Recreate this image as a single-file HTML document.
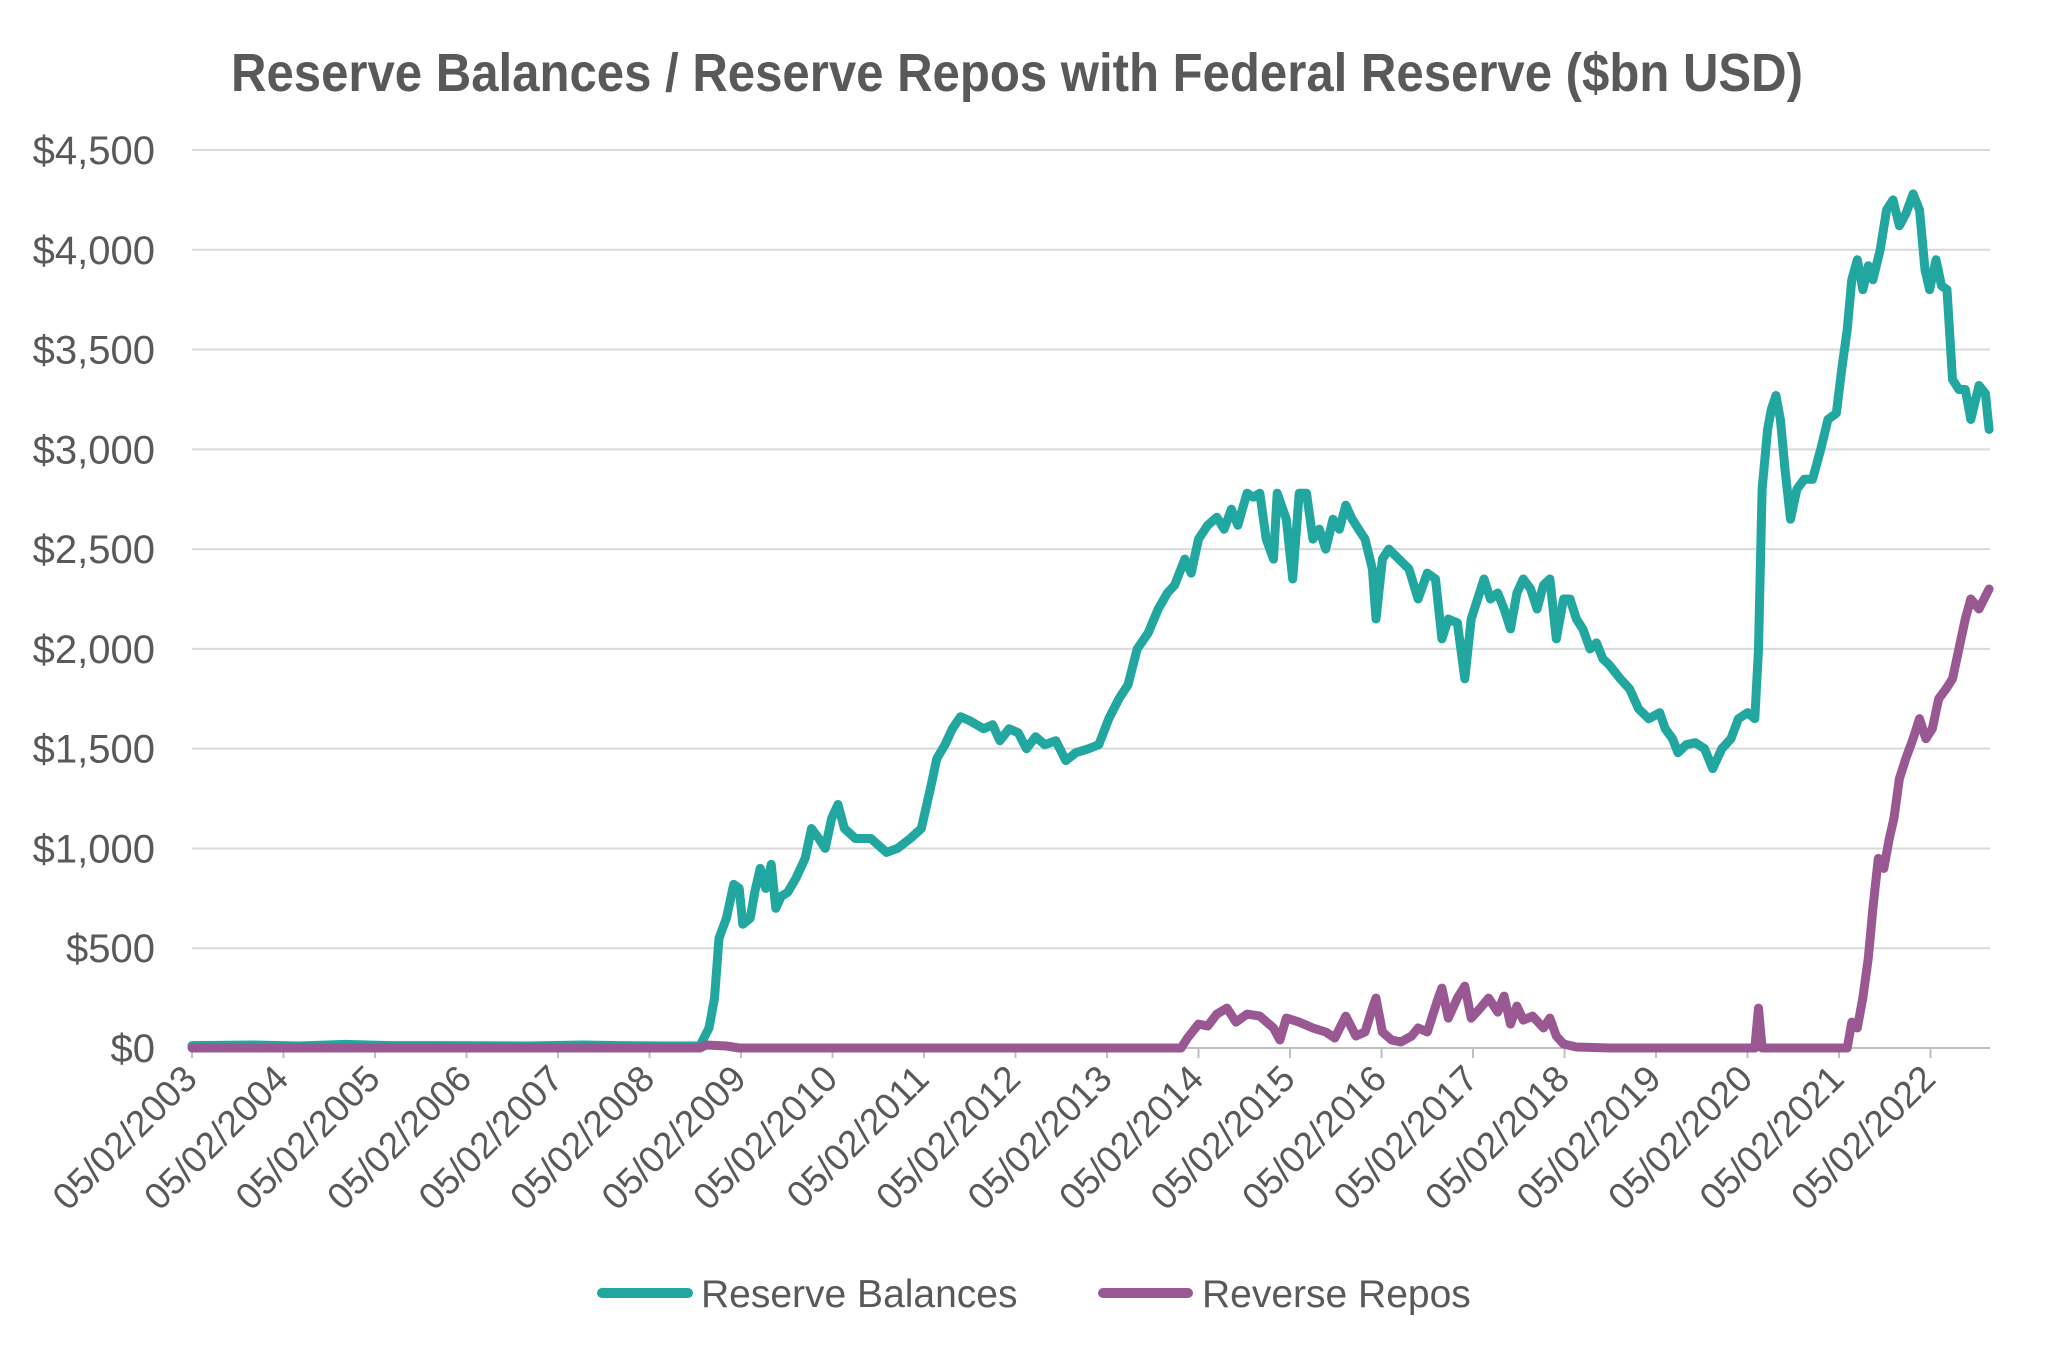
<!DOCTYPE html>
<html>
<head>
<meta charset="utf-8">
<style>
html,body{margin:0;padding:0;background:#fff;}
svg{display:block;font-family:"Liberation Sans",Arial,sans-serif;}
</style>
</head>
<body>
<svg id="chart" width="2068" height="1358" viewBox="0 0 2068 1358" xmlns="http://www.w3.org/2000/svg">
  <rect width="2068" height="1358" fill="#ffffff"/>
  <text x="231" y="91" font-size="54" font-weight="bold" fill="#595959" textLength="1572" lengthAdjust="spacingAndGlyphs">Reserve Balances / Reserve Repos with Federal Reserve ($bn USD)</text>
  <g id="grid"></g>
  <g id="yaxis"></g>
  <g id="xaxis"></g>
  <g id="series"></g>
  <g>
    <g>
      <line x1="602" y1="1293" x2="688" y2="1293" stroke="#21A6A0" stroke-width="10" stroke-linecap="round"/>
      <text x="701" y="1307" font-size="39" fill="#595959">Reserve Balances</text>
    </g>
    <g>
      <line x1="1103" y1="1293" x2="1188" y2="1293" stroke="#9A5893" stroke-width="10" stroke-linecap="round"/>
      <text x="1202" y="1307" font-size="39" fill="#595959">Reverse Repos</text>
    </g>
  </g>
</svg>
<script>
const yTicks = [0,500,1000,1500,2000,2500,3000,3500,4000,4500];
const yTickLabels = ["$0","$500","$1,000","$1,500","$2,000","$2,500","$3,000","$3,500","$4,000","$4,500"];
const xTickYears = [2003,2004,2005,2006,2007,2008,2009,2010,2011,2012,2013,2014,2015,2016,2017,2018,2019,2020,2021,2022];
const xTickLabels = xTickYears.map(y => "05/02/" + y);

const reserveDates = [2003.33,2004.0,2004.5,2005.0,2005.5,2006.0,2007.0,2007.6,2008.0,2008.5,2008.88,2008.98,2009.04,2009.09,2009.17,2009.25,2009.31,2009.35,2009.43,2009.48,2009.54,2009.60,2009.66,2009.71,2009.77,2009.84,2009.93,2010.03,2010.10,2010.18,2010.25,2010.32,2010.39,2010.46,2010.58,2010.75,2010.92,2011.04,2011.18,2011.30,2011.40,2011.47,2011.56,2011.64,2011.73,2011.83,2011.98,2012.08,2012.16,2012.26,2012.36,2012.45,2012.55,2012.65,2012.77,2012.88,2012.99,2013.13,2013.24,2013.35,2013.46,2013.56,2013.66,2013.78,2013.89,2013.99,2014.07,2014.18,2014.25,2014.33,2014.43,2014.53,2014.61,2014.69,2014.76,2014.86,2014.93,2015.00,2015.07,2015.15,2015.19,2015.29,2015.36,2015.43,2015.51,2015.58,2015.65,2015.72,2015.80,2015.87,2015.94,2016.01,2016.08,2016.15,2016.23,2016.27,2016.34,2016.41,2016.52,2016.63,2016.73,2016.83,2016.92,2016.99,2017.06,2017.16,2017.24,2017.31,2017.38,2017.45,2017.52,2017.60,2017.67,2017.74,2017.81,2017.88,2017.96,2018.03,2018.10,2018.17,2018.24,2018.32,2018.39,2018.46,2018.53,2018.61,2018.68,2018.75,2018.82,2018.94,2019.04,2019.14,2019.25,2019.37,2019.43,2019.51,2019.57,2019.66,2019.76,2019.86,2019.95,2020.05,2020.15,2020.23,2020.33,2020.41,2020.45,2020.49,2020.55,2020.59,2020.64,2020.69,2020.74,2020.80,2020.87,2020.95,2021.04,2021.13,2021.21,2021.30,2021.36,2021.42,2021.47,2021.53,2021.59,2021.65,2021.70,2021.78,2021.85,2021.92,2021.99,2022.06,2022.14,2022.21,2022.27,2022.32,2022.39,2022.45,2022.51,2022.57,2022.64,2022.71,2022.77,2022.86,2022.93,2022.97];
const reserveValues = [12,15,10,18,12,12,10,15,12,10,10,100,250,550,650,820,800,620,650,780,900,800,920,700,760,780,850,950,1100,1050,1000,1150,1220,1100,1050,1050,980,1000,1050,1100,1300,1450,1520,1600,1660,1640,1600,1620,1540,1600,1580,1500,1560,1520,1540,1440,1480,1500,1520,1650,1750,1820,2000,2080,2200,2280,2320,2450,2380,2550,2620,2660,2600,2700,2620,2780,2760,2780,2550,2450,2780,2650,2350,2780,2780,2550,2600,2500,2650,2600,2720,2650,2600,2550,2400,2150,2450,2500,2450,2400,2250,2380,2350,2050,2150,2130,1850,2150,2250,2350,2250,2280,2200,2100,2280,2350,2300,2200,2320,2350,2050,2250,2250,2150,2100,2000,2030,1950,1920,1850,1800,1700,1650,1680,1600,1550,1480,1520,1530,1500,1400,1500,1550,1650,1680,1650,2000,2800,3100,3200,3270,3150,2900,2650,2800,2850,2850,3000,3150,3180,3400,3600,3850,3950,3800,3920,3850,4000,4200,4250,4120,4180,4280,4200,3900,3800,3950,3820,3800,3350,3300,3300,3150,3320,3280,3100];

const repoDates = [2003.33,2008.88,2008.95,2009.17,2009.31,2013.78,2014.14,2014.21,2014.33,2014.43,2014.53,2014.64,2014.74,2014.86,2015.00,2015.15,2015.22,2015.29,2015.43,2015.58,2015.72,2015.82,2015.94,2016.05,2016.15,2016.23,2016.27,2016.34,2016.44,2016.54,2016.66,2016.73,2016.83,2016.95,2016.99,2017.06,2017.16,2017.24,2017.31,2017.41,2017.50,2017.60,2017.67,2017.74,2017.81,2017.88,2017.98,2018.10,2018.17,2018.24,2018.32,2018.46,2018.82,2020.41,2020.45,2020.49,2021.42,2021.47,2021.53,2021.59,2021.65,2021.70,2021.76,2021.82,2021.88,2021.93,2021.99,2022.06,2022.14,2022.21,2022.28,2022.35,2022.42,2022.50,2022.57,2022.64,2022.71,2022.77,2022.86,2022.97];
const repoValues = [0,0,15,10,0,0,0,50,120,110,170,200,130,170,160,100,40,150,130,100,80,50,160,60,80,200,250,80,40,30,60,100,80,250,300,150,250,310,150,200,250,180,260,120,210,140,160,100,150,60,20,5,0,0,200,0,0,130,100,250,450,700,950,900,1050,1150,1350,1450,1550,1650,1550,1600,1750,1800,1850,2000,2150,2250,2200,2300];

const NS = "http://www.w3.org/2000/svg";
const X0 = 192, XSTEP = 91.5, Y0 = 1048, YTOP = 150, VMAX = 4500, XRIGHT = 1990;
function xScale(yr){ return X0 + (yr - 2003.33) * XSTEP; }
function yScale(v){ return Y0 - v / VMAX * (Y0 - YTOP); }
function mk(tag, attrs){ const e = document.createElementNS(NS, tag); for (const k in attrs) e.setAttribute(k, attrs[k]); return e; }

const grid = document.getElementById('grid');
const yaxis = document.getElementById('yaxis');
yTicks.forEach((v, i) => {
  if (v > 0) {
    const gl = mk('line', {x1: X0, x2: XRIGHT, y1: yScale(v), y2: yScale(v), stroke: '#d9d9d9', 'stroke-width': 2});
    
    
    grid.appendChild(gl);
  }
  const t = mk('text', {x: 155, y: yScale(v) + 14, 'text-anchor': 'end', 'font-size': 40, fill: '#595959'});
  t.textContent = yTickLabels[i];
  
  
  yaxis.appendChild(t);
});

const xaxis = document.getElementById('xaxis');
const axl = mk('line', {x1: X0, x2: XRIGHT, y1: Y0, y2: Y0, stroke: '#bfbfbf', 'stroke-width': 2});


xaxis.appendChild(axl);
xTickYears.forEach((yr, i) => {
  const x = xScale(yr + 0.33);
  const tk = mk('line', {x1: x, x2: x, y1: Y0, y2: Y0 + 10, stroke: '#bfbfbf', 'stroke-width': 2});
  
  
  xaxis.appendChild(tk);
  const ax = x + 7, ay = Y0 + 33;
  const t = mk('text', {x: ax, y: ay, 'text-anchor': 'end', 'font-size': 37, fill: '#595959', transform: `rotate(-45 ${ax} ${ay})`});
  t.textContent = xTickLabels[i];
  
  
  xaxis.appendChild(t);
});

function pathFor(dates, vals){
  return dates.map((d, i) => (i ? 'L' : 'M') + xScale(d).toFixed(1) + ',' + yScale(vals[i]).toFixed(1)).join(' ');
}
const series = document.getElementById('series');
const pr = mk('path', {d: pathFor(repoDates, repoValues), fill: 'none', stroke: '#9A5893', 'stroke-width': 9, 'stroke-linejoin': 'round', 'stroke-linecap': 'round'});


const rb = mk('path', {d: pathFor(reserveDates, reserveValues), fill: 'none', stroke: '#21A6A0', 'stroke-width': 9, 'stroke-linejoin': 'round', 'stroke-linecap': 'round'});


series.appendChild(rb);
series.appendChild(pr);
</script>
</body>
</html>
